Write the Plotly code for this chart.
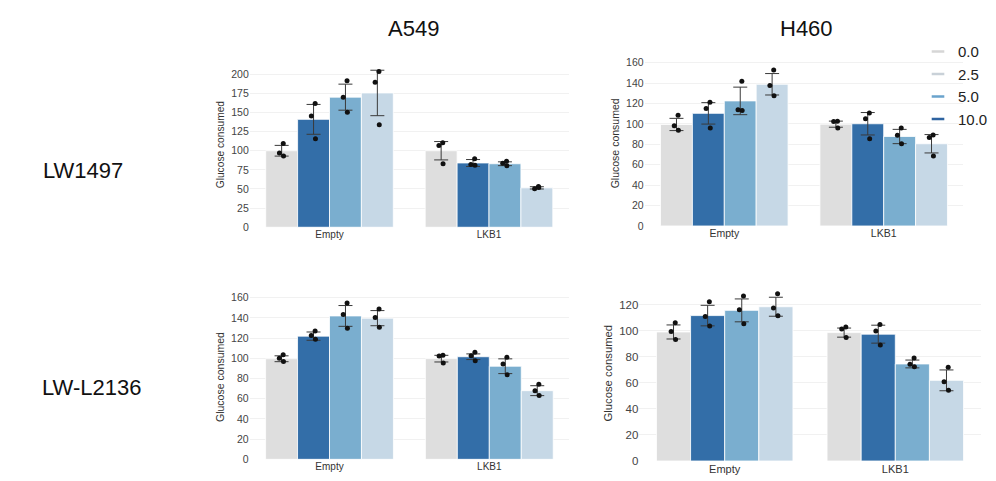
import plotly.graph_objects as go

# ---------------- data ----------------
categories = ["Empty", "LKB1"]
bar_doses = ["0.0", "10.0", "5.0", "2.5"]        # bar order inside each group
legend_doses = ["0.0", "2.5", "5.0", "10.0"]     # legend order
col_titles = ["A549", "H460"]
row_titles = ["LW1497", "LW-L2136"]

# means per bar dose: [Empty, LKB1]
a549_lw1497_mean = [[100, 100], [141, 84], [170, 83], [175.5, 51.5]]
a549_lw1497_sd = [[7, 12], [19.5, 4.5], [17, 2.5], [29.7, 1.5]]
a549_lw1497_pts = [
    [[109.4, 97, 93.2], [110.6, 106.8, 83]],
    [[161.7, 145.5, 115.7], [89.4, 82, 81]],
    [[191.5, 169.8, 150.2], [86.4, 83.8, 80.4]],
    [[203.4, 189.4, 134], [53.2, 50.2, 52]],
]

h460_lw1497_mean = [[99.5, 99.8], [110.4, 100.2], [122.6, 87.7], [138.9, 80.6]]
h460_lw1497_sd = [[6, 3], [10.5, 11], [13.5, 7], [10.5, 9]]
h460_lw1497_pts = [
    [[108.5, 98.2, 93.8], [102.7, 102.4, 96]],
    [[121.3, 115.2, 96], [110.7, 105, 85.4]],
    [[141.8, 114, 113.3], [96, 89, 80.6]],
    [[153, 137.6, 127.7], [89.3, 86.7, 68.5]],
]

a549_l2136_mean = [[99.6, 99.7], [122, 101.6], [142, 92.2], [139.8, 68]]
a549_l2136_sd = [[2.9, 3.3], [4.1, 2.8], [10.3, 7.3], [7.5, 4.9]]
a549_l2136_pts = [
    [[103.5, 100, 96.8], [103, 102.3, 95.5]],
    [[127.2, 122.7, 118.8], [106.1, 102.6, 97.7]],
    [[154.7, 143.4, 129.8], [101, 94.5, 83.8]],
    [[148.9, 140.5, 130.7], [74.4, 68, 63.1]],
]

h460_l2136_mean = [[99.2, 98.7], [111.8, 97.5], [115.8, 74.6], [118.6, 62]]
h460_l2136_sd = [[5.4, 3.5], [7.9, 6.9], [8.8, 3], [7.3, 8]]
h460_l2136_pts = [
    [[106.3, 99.5, 93.5], [103, 101.5, 95]],
    [[122.4, 111, 103.8], [105, 100, 89.2]],
    [[126.9, 116.3, 105.5], [79.1, 74.4, 72.4]],
    [[128.6, 117.6, 111.6], [72.1, 61, 54.3]],
]

# ---------------- style ----------------
W, H = 996, 481
FONT = "Arial, 'Liberation Sans', sans-serif"
dose_colors = {"0.0": "#dedede", "10.0": "#336ea8", "5.0": "#7aaecf", "2.5": "#c6d8e6"}
legend_colors = {"0.0": "#d6d6d6", "2.5": "#c9d1d8", "5.0": "#6aa3cc", "10.0": "#2e63a0"}
offsets = [-0.3, -0.1, 0.1, 0.3]
jitter = [0.01, -0.014, 0.012]


def xdom(c0, c1):
    sp = c1 - c0
    return [(c0 - 0.5 * sp) / W, (c1 + 0.5 * sp) / W]


def ydom(px0, vref, pxref, top):
    scale = (px0 - pxref) / vref
    top_px = px0 - top * scale
    return [1 - px0 / H, 1 - top_px / H]


panels = [
    dict(mean=a549_lw1497_mean, sd=a549_lw1497_sd, pts=a549_lw1497_pts,
         xd=xdom(329.5, 489), yd=ydom(228, 200, 71.7, 216), top=216, dtick=25,
         tf=10.5, ttf=10.2, xtf=10),
    dict(mean=h460_lw1497_mean, sd=h460_lw1497_sd, pts=h460_lw1497_pts,
         xd=xdom(724.3, 883.7), yd=ydom(226.7, 160, 60, 162), top=162, dtick=20,
         tf=10.5, ttf=10.5, xtf=10.5),
    dict(mean=a549_l2136_mean, sd=a549_l2136_sd, pts=a549_l2136_pts,
         xd=xdom(329.5, 489.3), yd=ydom(465, 160, 300, 163), top=163, dtick=20,
         tf=10.5, ttf=10.5, xtf=10),
    dict(mean=h460_l2136_mean, sd=h460_l2136_sd, pts=h460_l2136_pts,
         xd=xdom(724.7, 895.3), yd=ydom(466.7, 120, 307.3, 135), top=135, dtick=20,
         tf=11.5, ttf=11.3, xtf=11),
]

fig = go.Figure()
layout_axes = {}
for i, p in enumerate(panels):
    sfx = "" if i == 0 else str(i + 1)
    xa, ya = "x" + sfx, "y" + sfx
    for j, dose in enumerate(bar_doses):
        fig.add_trace(go.Bar(
            x=[k + offsets[j] for k in range(len(categories))],
            y=p["mean"][j],
            width=0.2,
            marker=dict(color=dose_colors[dose], line=dict(color="white", width=0.8)),
            error_y=dict(type="data", array=p["sd"][j], color="#3a3a3a",
                         thickness=1, width=7),
            name=dose, showlegend=False, xaxis=xa, yaxis=ya, hoverinfo="y",
        ))
    for j, dose in enumerate(bar_doses):
        xs, ys = [], []
        for k in range(len(categories)):
            for m, v in enumerate(p["pts"][j][k]):
                xs.append(k + offsets[j] + jitter[m])
                ys.append(v)
        fig.add_trace(go.Scatter(
            x=xs, y=ys, mode="markers",
            marker=dict(color="#111111", size=5),
            showlegend=False, xaxis=xa, yaxis=ya, hoverinfo="y",
        ))
    layout_axes["xaxis" + sfx] = dict(
        domain=p["xd"], range=[-0.5, 1.5], tickvals=[0, 1], ticktext=categories,
        showgrid=False, zeroline=False, showline=False, ticks="",
        tickfont=dict(size=p["xtf"], color="#333333", family=FONT),
        anchor=ya, fixedrange=True,
    )
    layout_axes["yaxis" + sfx] = dict(
        domain=p["yd"], range=[0, p["top"]], dtick=p["dtick"],
        showgrid=True, gridcolor="#f1f1f1", gridwidth=1, zeroline=False,
        showline=False, ticks="",
        tickfont=dict(size=p["tf"], color="#444444", family=FONT),
        title=dict(text="Glucose consumed", font=dict(size=p["ttf"], color="#333333", family=FONT),
                   standoff=4),
        anchor=xa, fixedrange=True,
    )

# legend entries (short dash swatches)
for dose in legend_doses:
    fig.add_trace(go.Scatter(
        x=[None], y=[None], mode="markers", name=dose,
        marker=dict(symbol="line-ew", size=9, line=dict(width=2.5, color=legend_colors[dose])),
        showlegend=True,
    ))

title_font = dict(size=22, color="#111111", family=FONT)
annotations = [
    dict(text=col_titles[0], x=413 / W, y=1 - 25 / H),
    dict(text=col_titles[1], x=806 / W, y=1 - 25 / H),
    dict(text=row_titles[0], x=83 / W, y=1 - 170 / H),
    dict(text=row_titles[1], x=91 / W, y=1 - 392 / H),
]
for a in annotations:
    a.update(xref="paper", yref="paper", xanchor="center", yanchor="middle",
             showarrow=False, font=title_font)

fig.update_layout(
    width=W, height=H, autosize=False,
    margin=dict(l=0, r=0, t=0, b=0),
    paper_bgcolor="white", plot_bgcolor="white",
    barmode="overlay",
    font=dict(family=FONT),
    showlegend=True,
    legend=dict(x=918 / W, y=1 - 32 / H, xanchor="left", yanchor="top",
                bgcolor="rgba(0,0,0,0)", font=dict(size=15, color="#222222", family=FONT),
                tracegroupgap=0, itemwidth=30),
    annotations=annotations,
    **layout_axes,
)

fig.write_html("out.html", config={"displayModeBar": False},
               post_script="document.body.style.margin='0';")
